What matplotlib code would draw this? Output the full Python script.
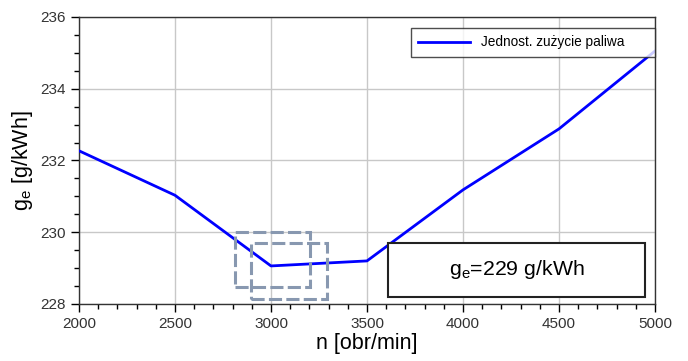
import matplotlib
matplotlib.use("Agg")
import matplotlib.pyplot as plt
from matplotlib.patches import Rectangle
from matplotlib.ticker import MultipleLocator

plt.rcParams['font.family'] = ['Liberation Sans', 'DejaVu Sans']

rpm = [2000, 2500, 3000, 3500, 4000, 4500, 5000]
ge = [232.27, 231.03, 229.06, 229.2, 231.18, 232.88, 235.05]
series_label = "Jednost. zużycie paliwa"
annot_text = "g$_\\mathregular{e}$=229 g/kWh"
xlabel = "n [obr/min]"
ylabel = "g$_\\mathregular{e}$ [g/kWh]"

fig = plt.figure(figsize=(6.88, 3.61), dpi=100)
ax = fig.add_axes([0.1148, 0.158, 0.8372, 0.795])

ax.plot(rpm, ge, color='#0000ff', lw=2.0, label=series_label, zorder=3)
ax.set_xlim(2000, 5000)
ax.set_ylim(228, 236)
ax.xaxis.set_major_locator(MultipleLocator(500))
ax.xaxis.set_minor_locator(MultipleLocator(100))
ax.yaxis.set_major_locator(MultipleLocator(2))
ax.yaxis.set_minor_locator(MultipleLocator(0.5))
ax.grid(True, which='major', color='#c8c8c8', lw=1.0)
ax.tick_params(which='major', direction='out', length=6, width=1, labelsize=11, labelcolor='#333333')
ax.tick_params(which='minor', direction='out', length=3.5, width=1)
for s in ax.spines.values():
    s.set_color('#333333')
    s.set_linewidth(1.0)

ax.set_xlabel(xlabel, fontsize=15.5, labelpad=1)
ax.set_ylabel(ylabel, fontsize=15.5, labelpad=4)

leg = ax.legend(loc='upper left', fontsize=9.8, frameon=True, fancybox=False,
                edgecolor='#222222', handlelength=3.8, borderpad=0.55,
                borderaxespad=0, mode='expand',
                bbox_to_anchor=(0.576, 0.861, 0.424, 0.101))
leg.get_frame().set_linewidth(1.0)

dash_col = '#8898b0'
ax.add_patch(Rectangle((2810, 228.47), 394, 1.53, fill=False, ec=dash_col, lw=2.2,
                       ls=(0, (4.3, 1.4)), zorder=4))
ax.add_patch(Rectangle((2898, 228.14), 394, 1.56, fill=False, ec=dash_col, lw=2.2,
                       ls=(0, (4.3, 1.4)), zorder=4))

ax.add_patch(Rectangle((3610, 228.2), 1340, 1.5, fill=True, fc='white', ec='#222222',
                       lw=1.5, zorder=5))
ax.text(4280, 228.95, annot_text, fontsize=15.3, ha='center', va='center', zorder=6)

fig.savefig('out.png', dpi=100)
